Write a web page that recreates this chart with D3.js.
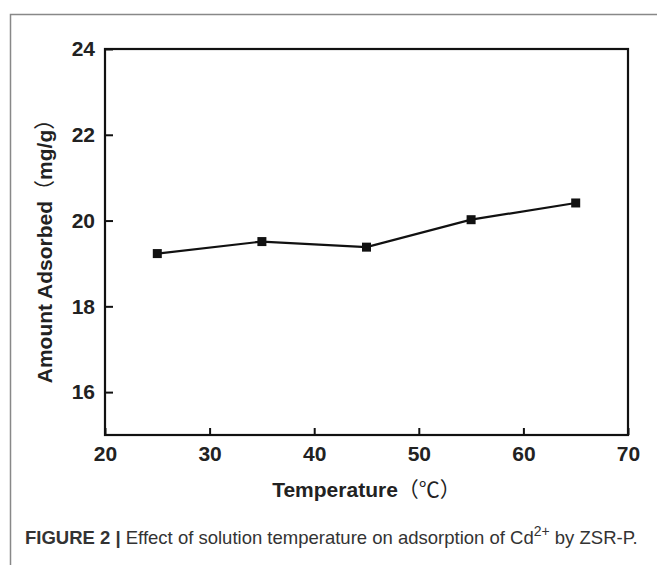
<!DOCTYPE html>
<html>
<head>
<meta charset="utf-8">
<script src="https://cdn.jsdelivr.net/npm/d3@7"></script>
<style>
  body { margin: 0; background: #fff; }
  svg { display: block; font-family: "Liberation Sans", Arial, "Noto Sans CJK SC", sans-serif; }
  .cjk { font-family: "Noto Sans CJK SC", sans-serif; font-weight: normal; }
</style>
</head>
<body>
<div id="chart"></div>
<script>
// data
const temps = [25, 35, 45, 55, 65];
const amounts = [19.23, 19.51, 19.38, 20.02, 20.41];
const xTicks = [20, 30, 40, 50, 60, 70];
const yTicks = [16, 18, 20, 22, 24];

const width = 657, height = 565;
const margin = {left: 105, top: 49, right: 29, bottom: 130};

const svg = d3.select("#chart").append("svg")
    .attr("width", width)
    .attr("height", height);

// outer figure frame (open at bottom)
svg.append("path")
    .attr("d", "M10.5,565 L10.5,14.5 L657,14.5")
    .attr("fill", "none")
    .attr("stroke", "#888")
    .attr("stroke-width", 1.5);

const x = d3.scaleLinear().domain([20, 70]).range([margin.left, width - margin.right]);
const y = d3.scaleLinear().domain([15, 24]).range([height - margin.bottom, margin.top]);

// plot frame
svg.append("rect")
    .attr("x", x(20)).attr("y", y(24))
    .attr("width", x(70) - x(20)).attr("height", y(15) - y(24))
    .attr("fill", "none").attr("stroke", "#111").attr("stroke-width", 2.2);

// axes, ticks pointing inward
const xAxis = svg.append("g")
    .attr("transform", `translate(0,${y(15)})`)
    .call(d3.axisTop(x).tickValues(xTicks).tickSize(7).tickFormat(d3.format("d")));
xAxis.select(".domain").remove();
xAxis.selectAll(".tick line").attr("stroke", "#111").attr("stroke-width", 2);
xAxis.selectAll(".tick text")
    .attr("y", 26).attr("dy", 0)
    .attr("fill", "#222")
    .style("font-size", "21px").style("font-weight", "bold");

const yAxis = svg.append("g")
    .attr("transform", `translate(${x(20)},0)`)
    .call(d3.axisRight(y).tickValues(yTicks).tickSize(8));
yAxis.select(".domain").remove();
yAxis.selectAll(".tick line").attr("stroke", "#111").attr("stroke-width", 2);
yAxis.selectAll(".tick text")
    .attr("x", -10).attr("text-anchor", "end")
    .attr("fill", "#222")
    .style("font-size", "21px").style("font-weight", "bold");

// series line + square markers
const pts = temps.map((t, i) => ({t, a: amounts[i]}));
svg.append("path")
    .datum(pts)
    .attr("fill", "none")
    .attr("stroke", "#111")
    .attr("stroke-width", 2.2)
    .attr("d", d3.line().x(d => x(d.t)).y(d => y(d.a)));

svg.append("g").selectAll("rect")
    .data(pts)
    .join("rect")
    .attr("x", d => x(d.t) - 4.5)
    .attr("y", d => y(d.a) - 4.5)
    .attr("width", 9).attr("height", 9)
    .attr("fill", "#111");

// axis titles (full-width brackets from the CJK font)
const xt = svg.append("text")
    .attr("x", (x(20) + x(70)) / 2)
    .attr("y", 497)
    .attr("text-anchor", "middle")
    .attr("fill", "#222")
    .style("font-size", "21px").style("font-weight", "bold");
xt.append("tspan").text("Temperature");
xt.append("tspan").attr("class", "cjk").text("（℃）");

const yt = svg.append("text")
    .attr("transform", `translate(52,246) rotate(-90)`)
    .attr("text-anchor", "middle")
    .attr("fill", "#222")
    .style("font-size", "21px").style("font-weight", "bold");
yt.append("tspan").text("Amount Adsorbed");
yt.append("tspan").attr("class", "cjk").text("（");
yt.append("tspan").text("mg/g");
yt.append("tspan").attr("class", "cjk").text("）");

// caption
const cap = svg.append("text")
    .attr("x", 25).attr("y", 544)
    .attr("fill", "#333")
    .style("font-size", "18.5px");
cap.append("tspan").style("font-weight", "bold").text("FIGURE 2 | ");
cap.append("tspan").text("Effect of solution temperature on adsorption of Cd");
cap.append("tspan").attr("dy", -8).style("font-size", "14px").text("2+");
cap.append("tspan").attr("dy", 8).text(" by ZSR-P.");
</script>
</body>
</html>
